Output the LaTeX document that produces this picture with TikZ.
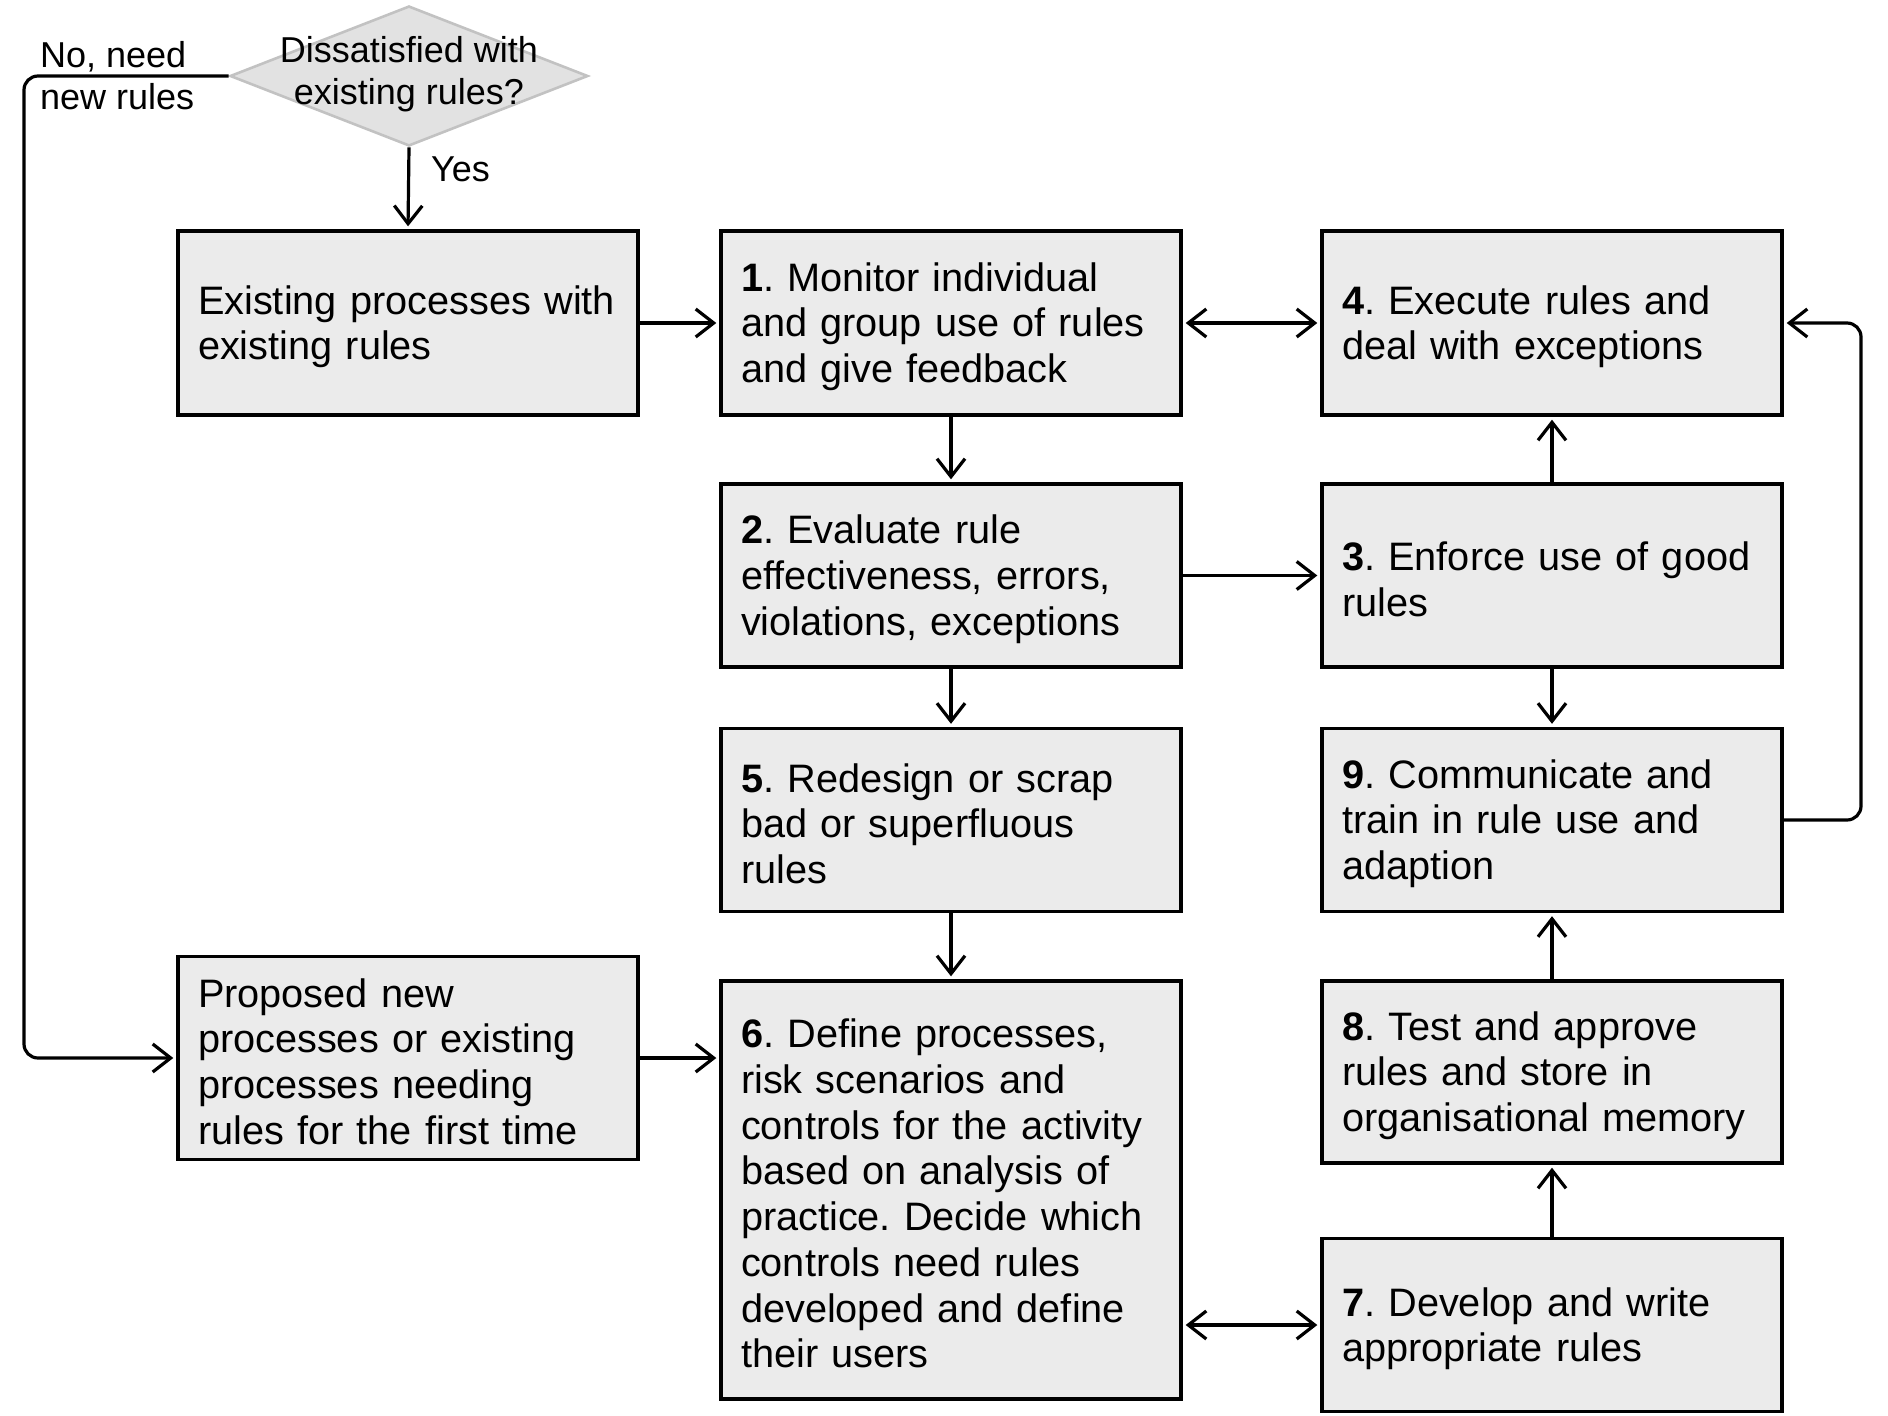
\documentclass[tikz,border=0pt]{standalone}
\usepackage{fontspec}
\setmainfont{Liberation Sans}
\usetikzlibrary{arrows.meta,shapes.geometric,calc}
\definecolor{boxfill}{HTML}{EBEBEB}
\definecolor{dfill}{HTML}{E2E2E2}
\definecolor{dline}{HTML}{C2C2C2}
\frenchspacing
\tikzset{
  stepbox/.style={draw=black, line width=3.4pt, fill=boxfill, rectangle,
    text width=420pt, inner xsep=20pt, inner ysep=0pt, align=left,
    minimum width=460pt, font=\fontsize{39.7}{45.7}\selectfont,
    execute at begin node={\rule{0pt}{36pt}}},
  conn/.style={line width=3.2pt, -{Straight Barb[length=18pt,width=28pt,line width=3.2pt]}, shorten >=3pt},
  conn2/.style={line width=3.2pt, {Straight Barb[length=18pt,width=28pt,line width=3.2pt]}-{Straight Barb[length=18pt,width=28pt,line width=3.2pt]}, shorten >=3pt, shorten <=3pt},
  lbl/.style={font=\fontsize{36}{42}\selectfont, inner sep=0pt}
}
\begin{document}
\begin{tikzpicture}[x=1pt,y=-1pt]
\useasboundingbox (0,0) rectangle (1888,1416);
% decision
\node[diamond, draw=dline, line width=2.6pt, fill=dfill, minimum width=358pt, minimum height=140pt, inner sep=0pt] (q) at (409,76) {};
\node[lbl, align=center] (qt) at (409,74) {Dissatisfied with\\existing rules?};
\node[lbl, anchor=west, align=left] (no) at (40,76) {No, need\\new rules};
\node[lbl, anchor=west] (yes) at (431,169) {Yes};
% boxes
\node[stepbox, minimum height=184pt] (E) at (408,323) {Existing processes with\\existing rules};
\node[stepbox, minimum height=184pt] (b1) at (951,323) {\textbf{1}. Monitor individual\\and group use of rules\\and give feedback};
\node[stepbox, minimum height=184pt] (b4) at (1552,323) {\textbf{4}. Execute rules and\\deal with exceptions};
\node[stepbox, minimum height=183pt] (b2) at (951,575.5) {\textbf{2}. Evaluate rule\\effectiveness, errors,\\violations, exceptions};
\node[stepbox, minimum height=183pt] (b3) at (1552,575.5) {\textbf{3}. Enforce use of good\\rules};
\node[stepbox, minimum height=183pt] (b5) at (951,820) {\textbf{5}. Redesign or scrap\\bad or superfluous\\rules};
\node[stepbox, minimum height=183pt] (b9) at (1552,820) {\textbf{9}. Communicate and\\train in rule use and\\adaption};
\node[stepbox, minimum height=203pt] (P) at (408,1058) {Proposed new\\processes or existing\\processes needing\\rules for the first time};
\node[stepbox, minimum height=418pt] (b6) at (951,1190) {\textbf{6}. Define processes,\\risk scenarios and\\controls for the activity\\based on analysis of\\practice. Decide which\\controls need rules\\developed and define\\their users};
\node[stepbox, minimum height=182pt] (b8) at (1552,1072) {\textbf{8}. Test and approve\\rules and store in\\organisational memory};
\node[stepbox, minimum height=173pt] (b7) at (1552,1325) {\textbf{7}. Develop and write\\appropriate rules};
% connectors
\draw[conn] (q.south) -- (E.north);
\draw[conn, rounded corners=14pt] (q.west) -- (24,76) -- (24,1058) -- (P.west);
\draw[conn] (E.east) -- (b1.west);
\draw[conn2] (b1.east) -- (b4.west);
\draw[conn] (b1.south) -- (b2.north);
\draw[conn] (b2.east) -- (b3.west);
\draw[conn] (b3.north) -- (b4.south);
\draw[conn] (b3.south) -- (b9.north);
\draw[conn] (b2.south) -- (b5.north);
\draw[conn] (b5.south) -- (b6.north);
\draw[conn] (P.east) -- (P.east -| b6.west);
\draw[conn2] (b7.west -| b6.east) -- (b7.west);
\draw[conn] (b7.north) -- (b8.south);
\draw[conn] (b8.north) -- (b9.south);
\draw[conn, rounded corners=14pt] (b9.east) -- (1861,820) -- (1861,323) -- (b4.east);
\end{tikzpicture}
\end{document}
